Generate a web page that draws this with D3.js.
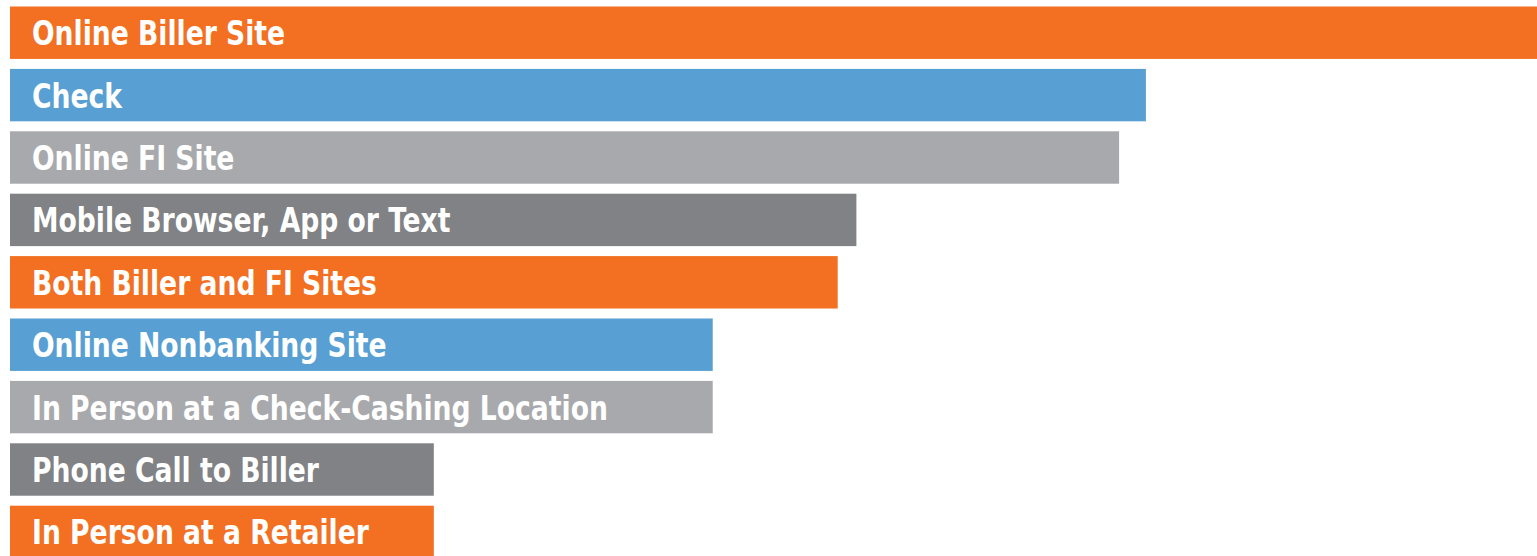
<!DOCTYPE html>
<html>
<head>
<meta charset="utf-8">
<script src="https://cdn.jsdelivr.net/npm/d3@7"></script>
<style>
  html, body { margin: 0; padding: 0; background: #fff; overflow: hidden; }
  svg { display: block; }
</style>
</head>
<body>
<svg id="chart" width="1537" height="556"></svg>
<script>
const categories = [
  "Online Biller Site",
  "Check",
  "Online FI Site",
  "Mobile Browser, App or Text",
  "Both Biller and FI Sites",
  "Online Nonbanking Site",
  "In Person at a Check-Cashing Location",
  "Phone Call to Biller",
  "In Person at a Retailer"
];
const values = [49, 36.45, 35.59, 27.16, 26.56, 22.55, 22.55, 13.6, 13.6];
const colors = ["#F36F21", "#589FD3", "#A8A9AC", "#808285", "#F36F21", "#589FD3", "#A8A9AC", "#808285", "#F36F21"];

const data = categories.map((c, i) => ({ name: c, value: values[i], color: colors[i] }));

const svg = d3.select("#chart");

const x = d3.scaleLinear().domain([0, 49]).range([10, 1537]);
const y = d3.scaleBand()
  .domain(categories)
  .range([6.5, 6.5 + 62.4 * (categories.length - 0.16)])
  .paddingInner(0.16)
  .paddingOuter(0);

const g = svg.append("g");

g.selectAll("rect")
  .data(data)
  .join("rect")
  .attr("x", x(0))
  .attr("y", d => y(d.name))
  .attr("width", d => x(d.value) - x(0))
  .attr("height", y.bandwidth())
  .attr("fill", d => d.color);

g.selectAll("text")
  .data(data)
  .join("text")
  .attr("transform", d => `translate(${x(0) + 22},${y(d.name) + y.bandwidth() / 2 + 12.5}) scale(0.87,1)`)
  .attr("fill", "#fff")
  .style("font-family", "'DejaVu Sans Condensed', 'DejaVu Sans', sans-serif")
  .style("font-weight", "bold")
  .style("font-size", "34px")
  .text(d => d.name);
</script>
</body>
</html>
